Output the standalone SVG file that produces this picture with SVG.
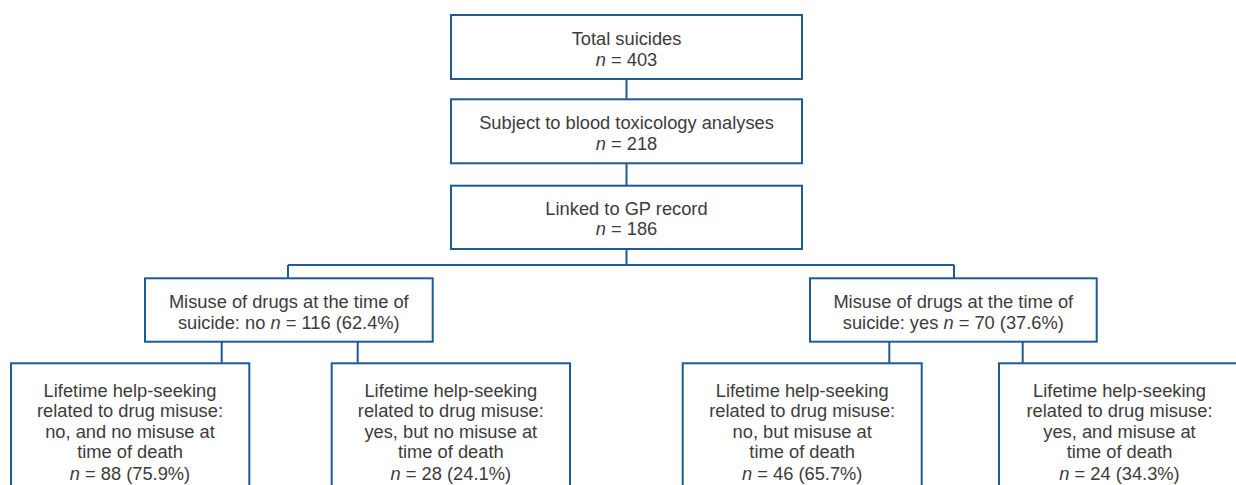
<svg xmlns="http://www.w3.org/2000/svg" width="1236" height="485" viewBox="0 0 1236 485">
<style>
.box{fill:#ffffff;stroke:#1d5b96;stroke-width:2}
.con{fill:none;stroke:#1d5b96;stroke-width:2}
text{font-family:"Liberation Sans",Arial,sans-serif;font-size:18.3px;fill:#3c3c3c;text-anchor:middle}
.i{font-style:italic}
</style>
<rect width="1236" height="485" fill="#ffffff"/>
<g id="connectors">
<path class="con" d="M626.5 79V99M626.5 163V186M626.5 249V265M288 265H954M288 265V278.3M954 265V278.3M221.7 341.7V363.3M357.7 341.7V363.3M889.3 341.7V363.3M1022.7 341.7V363.3"/>
</g>
<g id="total">
<rect class="box" x="451" y="15" width="351" height="64"/>
<text x="626.5" y="45">Total suicides</text>
<text x="626.5" y="66"><tspan class="i">n</tspan> = 403</text>
</g>
<g id="toxicology">
<rect class="box" x="451" y="99.3" width="351" height="64"/>
<text x="626.5" y="129">Subject to blood toxicology analyses</text>
<text x="626.5" y="150"><tspan class="i">n</tspan> = 218</text>
</g>
<g id="gp">
<rect class="box" x="451" y="185.7" width="351" height="63.3"/>
<text x="626.5" y="215">Linked to GP record</text>
<text x="626.5" y="235"><tspan class="i">n</tspan> = 186</text>
</g>
<g id="misuse-no">
<rect class="box" x="145" y="278.3" width="287.7" height="63.4"/>
<text x="288.8" y="308.3">Misuse of drugs at the time of</text>
<text x="288.8" y="329">suicide: no <tspan class="i">n</tspan> = 116 (62.4%)</text>
</g>
<g id="misuse-yes">
<rect class="box" x="810" y="278.3" width="286.7" height="63.4"/>
<text x="953.3" y="308.3">Misuse of drugs at the time of</text>
<text x="953.3" y="329">suicide: yes <tspan class="i">n</tspan> = 70 (37.6%)</text>
</g>
<g id="no-no">
<rect class="box" x="11" y="363.3" width="238.3" height="140"/>
<text x="130" y="396.7">Lifetime help-seeking</text>
<text x="130" y="417.3">related to drug misuse:</text>
<text x="130" y="437.8">no, and no misuse at</text>
<text x="130" y="458.4">time of death</text>
<text x="130" y="479.5"><tspan class="i">n</tspan> = 88 (75.9%)</text>
</g>
<g id="yes-no">
<rect class="box" x="331.7" y="363.3" width="238.3" height="140"/>
<text x="450.8" y="396.7">Lifetime help-seeking</text>
<text x="450.8" y="417.3">related to drug misuse:</text>
<text x="450.8" y="437.8">yes, but no misuse at</text>
<text x="450.8" y="458.4">time of death</text>
<text x="450.8" y="479.5"><tspan class="i">n</tspan> = 28 (24.1%)</text>
</g>
<g id="no-yes">
<rect class="box" x="682.7" y="363.3" width="239" height="140"/>
<text x="802.2" y="396.7">Lifetime help-seeking</text>
<text x="802.2" y="417.3">related to drug misuse:</text>
<text x="802.2" y="437.8">no, but misuse at</text>
<text x="802.2" y="458.4">time of death</text>
<text x="802.2" y="479.5"><tspan class="i">n</tspan> = 46 (65.7%)</text>
</g>
<g id="yes-yes">
<rect class="box" x="999" y="363.3" width="240" height="140"/>
<text x="1119.5" y="396.7">Lifetime help-seeking</text>
<text x="1119.5" y="417.3">related to drug misuse:</text>
<text x="1119.5" y="437.8">yes, and misuse at</text>
<text x="1119.5" y="458.4">time of death</text>
<text x="1119.5" y="479.5"><tspan class="i">n</tspan> = 24 (34.3%)</text>
</g>
</svg>
